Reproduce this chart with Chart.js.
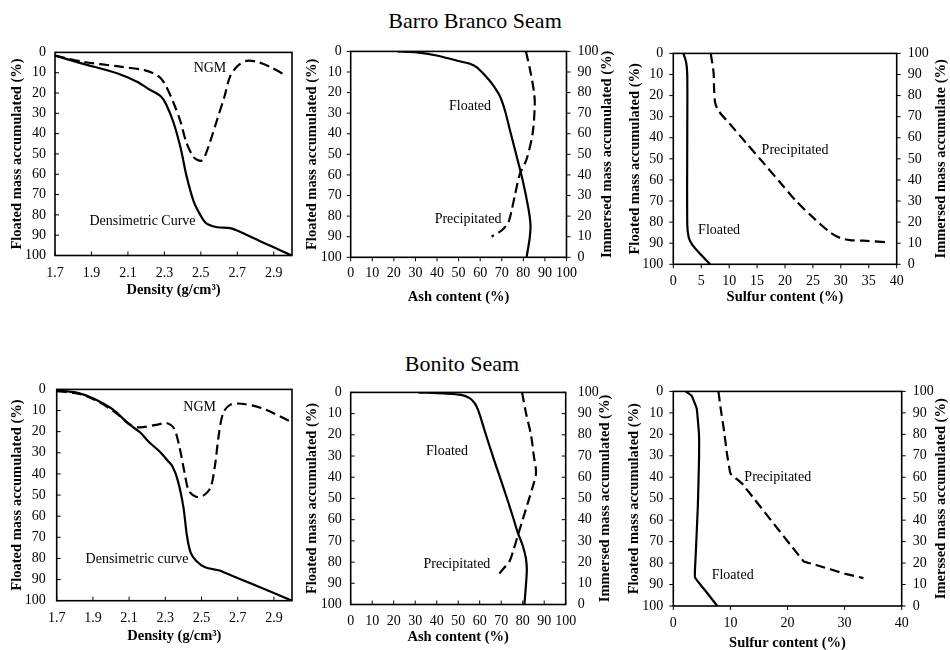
<!DOCTYPE html>
<html>
<head>
<meta charset="utf-8">
<script src="https://cdn.jsdelivr.net/npm/chart.js@4.4.1/dist/chart.umd.min.js"></script>
<style>
body { margin:0; background:#fff; width:950px; height:650px; position:relative; overflow:hidden; font-family:"Liberation Serif","Times New Roman",serif; }
canvas { position:absolute; }
.seam { position:absolute; font-size:22px; transform:translate(-50%,-50%); white-space:nowrap; color:#000; }
</style>
</head>
<body>
<div class="seam" style="left:475px;top:21px">Barro Branco Seam</div>
<div class="seam" style="left:462px;top:364px">Bonito Seam</div>
<script>
// tick labels
const massTicks = [0, 10, 20, 30, 40, 50, 60, 70, 80, 90, 100];
const densityTicks = [1.7, 1.9, 2.1, 2.3, 2.5, 2.7, 2.9];
const ashTicks = [0, 10, 20, 30, 40, 50, 60, 70, 80, 90, 100];
const sulfurTicksBB = [0, 5, 10, 15, 20, 25, 30, 35, 40];
const sulfurTicksBo = [0, 10, 20, 30, 40];

// Barro Branco - densimetric curve / NGM
const bbDensX = [1.70, 1.85, 2.04, 2.15, 2.22, 2.28, 2.31, 2.35, 2.39, 2.42, 2.46, 2.50, 2.53, 2.59, 2.66, 2.72, 2.85, 3.00];
const bbDensY = [1.6, 5.5, 10.3, 14.5, 18.4, 21.6, 25.6, 34.5, 47.4, 60.3, 73.2, 80.5, 84.2, 86.1, 86.5, 88.5, 94, 100];
const bbNgmX = [1.70, 1.86, 2.04, 2.19, 2.24, 2.28, 2.31, 2.35, 2.39, 2.42, 2.46, 2.50, 2.52, 2.55, 2.59, 2.63, 2.66, 2.70, 2.75, 2.81, 2.88, 2.97];
const bbNgmY = [1.6, 4.7, 6.8, 8.7, 10.3, 12.7, 16.8, 24.8, 34.5, 44.2, 51.5, 53.4, 51.5, 44.2, 32.9, 21.6, 11.9, 6.8, 4.2, 4.7, 7.1, 11.6];

// Barro Branco - ash content
const bbAshFloatX = [21.6, 30.6, 39.8, 49, 55.2, 58.3, 61.4, 65.3, 69.1, 71.5, 73.8, 76.9, 79.9, 82.3, 83.3, 83, 81.5];
const bbAshFloatY = [0, 0.5, 2, 4.4, 6, 7.6, 10.7, 15.4, 21.7, 28.8, 38.3, 50.9, 63.5, 76, 84, 90.2, 100];
const bbAshPrecX = [81.2, 83, 84.9, 85.3, 84.3, 81.5, 78.4, 76.1, 74.5, 73, 69.9, 65.3];
const bbAshPrecY = [0, 8.3, 19.4, 25.7, 39.8, 52.4, 59.5, 69.8, 77.6, 83.1, 87, 89.9];

// Barro Branco - sulfur content
const bbSulFloatX = [1.8, 2.3, 2.5, 2.5, 2.5, 2.75, 3.3, 4.5, 6.6];
const bbSulFloatY = [0, 4.2, 10.3, 38, 81, 87.2, 90.3, 94.2, 100];
const bbSulPrecX = [6.7, 7.2, 7.3, 7.5, 8.1, 10.1, 13.1, 16.1, 19.1, 22.1, 25.1, 28.1, 29.9, 31.6, 34, 38.2];
const bbSulPrecY = [0, 8.8, 16.5, 23.4, 27.2, 33.4, 42.6, 51.8, 61.1, 70.3, 78, 84.9, 87.5, 88.5, 88.8, 89.5];

// Bonito - densimetric curve / NGM
const boDensX = [1.70, 1.81, 1.90, 2.01, 2.10, 2.16, 2.21, 2.27, 2.31, 2.34, 2.37, 2.40, 2.42, 2.44, 2.47, 2.52, 2.60, 2.63, 2.76, 3.00];
const boDensY = [0.6, 1.5, 4.2, 9.5, 16.5, 20.3, 24.9, 29.5, 33.4, 36.5, 43.4, 55.7, 69.5, 77.2, 81.1, 84.2, 85.7, 86.8, 91.4, 100];
const boNgmX = [1.70, 1.82, 1.90, 2.01, 2.11, 2.16, 2.25, 2.31, 2.35, 2.38, 2.405, 2.43, 2.47, 2.51, 2.55, 2.575, 2.595, 2.62, 2.66, 2.72, 2.83, 3.00];
const boNgmY = [0.8, 2, 4.5, 10, 16.9, 18, 16.8, 16, 18.8, 28, 38.8, 48, 50.8, 50.3, 46.5, 35.7, 21.8, 11.1, 7.2, 6.8, 8.8, 15.5];

// Bonito - ash content
const boAshFloatX = [31.4, 43.7, 51.4, 55.3, 57.6, 59.2, 60.7, 63, 66.9, 71.5, 75.4, 77.7, 80, 81.5, 81.9, 80.8];
const boAshFloatY = [0, 0.5, 1.2, 2.7, 5, 8.1, 12.7, 20.3, 32.5, 46.3, 58.5, 66.1, 72.2, 78.3, 84.4, 100];
const boAshPrecX = [79.7, 81.5, 83.9, 85.1, 86.2, 84.6, 82.3, 80, 77.7, 75.4, 73.8, 71.2, 68.1];
const boAshPrecY = [0, 9.6, 20.3, 29.5, 37.9, 44.7, 52.4, 60, 67.6, 75.3, 79.8, 82.9, 86.7];

// Bonito - sulfur content
const boSulFloatX = [2.2, 3.2, 4.1, 4.5, 4.5, 4.3, 3.9, 3.8, 5.8, 7.7];
const boSulFloatY = [0, 2, 8, 20.1, 32.2, 53.4, 77.6, 86.7, 93.5, 100];
const boSulPrecX = [7.9, 8.3, 8.9, 9.4, 10, 12, 22.8, 25, 30, 33.3];
const boSulPrecY = [0, 8, 18.6, 29, 38.3, 42.8, 79.1, 80.9, 84.9, 87];

const FONT = '"Liberation Serif", "Times New Roman", serif';
const TITLE_SIZE = 14.5;
const HALF = TITLE_SIZE * 1.2 / 2;
const pts = (xs, ys) => xs.map((x, i) => ({ x: x, y: ys[i] }));

// box border, tick marks, right-axis title and in-plot labels
const frame = {
  id: 'frame',
  afterDraw(chart, args, opts) {
    const { ctx, chartArea: a } = chart;
    ctx.save();
    ctx.fillStyle = '#000';
    ctx.strokeStyle = '#000';
    ctx.font = '14px ' + FONT;
    ctx.textAlign = 'center';
    ctx.textBaseline = 'middle';
    (opts.notes || []).forEach(n => {
      ctx.fillText(n.text, chart.scales.x.getPixelForValue(n.x), chart.scales.y.getPixelForValue(n.y));
    });
    // right axis title reads bottom to top, like the left one
    if (opts.y2Title && chart.scales.y2) {
      ctx.save();
      ctx.font = 'bold ' + TITLE_SIZE + 'px ' + FONT;
      ctx.translate(chart.scales.y2.right - HALF, (a.top + a.bottom) / 2);
      ctx.rotate(-Math.PI / 2);
      ctx.fillText(opts.y2Title, 0, 0);
      ctx.restore();
    }
    ctx.lineWidth = 1;
    const d = opts.inside ? 1 : -1, L = 4;
    Object.values(chart.scales).forEach(s => {
      s.ticks.forEach(t => {
        const p = s.getPixelForValue(t.value);
        ctx.beginPath();
        if (s.axis === 'x') { ctx.moveTo(p, a.bottom); ctx.lineTo(p, a.bottom - d * L); }
        else if (s.position === 'left') { ctx.moveTo(a.left, p); ctx.lineTo(a.left + d * L, p); }
        else { ctx.moveTo(a.right, p); ctx.lineTo(a.right - d * L, p); }
        ctx.stroke();
      });
    });
    ctx.lineWidth = 1.6;
    ctx.strokeRect(a.left, a.top, a.right - a.left, a.bottom - a.top);
    ctx.restore();
  }
};

function line(data, dashed, tension) {
  return {
    data: data, borderColor: '#000', borderWidth: 2.2, pointRadius: 0,
    showLine: true, fill: false, tension: tension,
    borderDash: dashed ? [10, 5] : []
  };
}

function panel(g, c) {
  const cl = Math.round(g.yTitle - HALF);
  const ct = Math.round(g.t - 14);
  const cr = Math.round(g.y2Title ? g.y2Title + HALF : g.r + 12);
  const cb = Math.round(g.xTitle + HALF);
  const cv = document.createElement('canvas');
  cv.width = cr - cl; cv.height = cb - ct;
  cv.style.left = cl + 'px'; cv.style.top = ct + 'px';
  document.body.appendChild(cv);

  const tickFont = { family: FONT, size: 14 };
  const titleFont = { family: FONT, size: TITLE_SIZE, weight: 'bold' };
  const scales = {
    x: {
      type: 'linear', position: 'bottom', min: c.xMin, max: c.xMax,
      afterBuildTicks: s => { s.ticks = c.xTicks.map(v => ({ value: v })); },
      afterFit: s => { s.height = cb - g.b; },
      ticks: { color: '#000', font: tickFont, padding: g.xLab - g.b - 8.4, maxRotation: 0, autoSkip: false,
               callback: c.xFmt || (v => String(v)) },
      title: { display: true, text: c.xTitle, color: '#000', font: titleFont, padding: 0 },
      grid: { display: false, drawTicks: false }, border: { display: false }
    },
    y: {
      type: 'linear', position: 'left', min: 0, max: 100, reverse: true,
      afterBuildTicks: s => { s.ticks = massTicks.map(v => ({ value: v })); },
      afterFit: s => { s.width = g.l - cl; },
      ticks: { color: '#000', font: tickFont, padding: g.gap },
      title: { display: true, text: 'Floated mass accumulated (%)', color: '#000', font: titleFont, padding: 0 },
      grid: { display: false, drawTicks: false }, border: { display: false }
    }
  };
  if (g.y2Title) {
    scales.y2 = {
      type: 'linear', position: 'right', min: 0, max: 100,
      afterBuildTicks: s => { s.ticks = massTicks.map(v => ({ value: v })); },
      afterFit: s => { s.width = cr - g.r; },
      ticks: { color: '#000', font: tickFont, padding: g.gap2 },
      title: { display: false },
      grid: { display: false, drawTicks: false }, border: { display: false }
    };
  }
  new Chart(cv, {
    type: 'scatter',
    data: { datasets: c.datasets },
    options: {
      responsive: false, animation: false, devicePixelRatio: 1,
      layout: { padding: { top: g.t - ct, right: g.y2Title ? 0 : cr - g.r, left: 0, bottom: 0 } },
      scales: scales,
      plugins: { legend: { display: false }, tooltip: { enabled: false },
                 frame: { inside: g.inside, notes: c.notes, y2Title: c.y2Title } }
    },
    plugins: [frame]
  });
}

const dens = v => v.toFixed(1);

panel({ l: 55, t: 49, r: 292, b: 255.5, yTitle: 18, gap: 9, xLab: 273, xTitle: 290, inside: true }, {
  xMin: 1.7, xMax: 3.0, xTicks: densityTicks, xFmt: dens, xTitle: 'Density (g/cm³)',
  datasets: [line(pts(bbDensX, bbDensY), false, 0.3), line(pts(bbNgmX, bbNgmY), true, 0.3)],
  notes: [{ text: 'NGM', x: 2.55, y: 7.7 }, { text: 'Densimetric Curve', x: 2.18, y: 83 }]
});
panel({ l: 350.7, t: 45.7, r: 566.5, b: 257.3, yTitle: 313, gap: 9, y2Title: 607, gap2: 11, xLab: 273, xTitle: 297, inside: false }, {
  xMin: 0, xMax: 100, xTicks: ashTicks, xTitle: 'Ash content (%)', y2Title: 'Immersed mass accumulated (%)',
  datasets: [line(pts(bbAshFloatX, bbAshFloatY), false, 0.3), line(pts(bbAshPrecX, bbAshPrecY), true, 0.3)],
  notes: [{ text: 'Floated', x: 55.3, y: 26.6 }, { text: 'Precipitated', x: 54.4, y: 81.5 }]
});
panel({ l: 673.3, t: 47.7, r: 896.7, b: 264.3, yTitle: 636, gap: 10, y2Title: 941, gap2: 11, xLab: 281, xTitle: 297, inside: false }, {
  xMin: 0, xMax: 40, xTicks: sulfurTicksBB, xTitle: 'Sulfur content (%)', y2Title: 'Immersed mass accumulate (%)',
  datasets: [line(pts(bbSulFloatX, bbSulFloatY), false, 0.3), line(pts(bbSulPrecX, bbSulPrecY), true, 0.3)],
  notes: [{ text: 'Precipitated', x: 21.8, y: 45.8 }, { text: 'Floated', x: 8.2, y: 84.1 }]
});
panel({ l: 56.7, t: 384, r: 292, b: 600.7, yTitle: 18, gap: 11, xLab: 618, xTitle: 636, inside: true }, {
  xMin: 1.7, xMax: 3.0, xTicks: densityTicks, xFmt: dens, xTitle: 'Density (g/cm³)',
  datasets: [line(pts(boDensX, boDensY), false, 0.3), line(pts(boNgmX, boNgmY), true, 0.3)],
  notes: [{ text: 'NGM', x: 2.49, y: 8.3 }, { text: 'Densimetric curve', x: 2.144, y: 80.3 }]
});
panel({ l: 350.7, t: 385.7, r: 565.7, b: 604.5, yTitle: 313, gap: 9, y2Title: 605, gap2: 12, xLab: 621, xTitle: 637, inside: true }, {
  xMin: 0, xMax: 100, xTicks: ashTicks, xTitle: 'Ash content (%)', y2Title: 'Immersed mass accumulated (%)',
  datasets: [line(pts(boAshFloatX, boAshFloatY), false, 0.3), line(pts(boAshPrecX, boAshPrecY), true, 0.3)],
  notes: [{ text: 'Floated', x: 44.8, y: 27.6 }, { text: 'Precipitated', x: 49.4, y: 81 }]
});
panel({ l: 673.3, t: 385.7, r: 901.7, b: 606, yTitle: 635, gap: 10, y2Title: 941, gap2: 11, xLab: 623, xTitle: 643, inside: false }, {
  xMin: 0, xMax: 40, xTicks: sulfurTicksBo, xTitle: 'Sulfur content (%)', y2Title: 'Imerssed mass accumulated (%)',
  datasets: [line(pts(boSulFloatX, boSulFloatY), false, 0.1), line(pts(boSulPrecX, boSulPrecY), true, 0.05)],
  notes: [{ text: 'Precipitated', x: 18.3, y: 40.1 }, { text: 'Floated', x: 10.4, y: 85.9 }]
});
</script>
</body>
</html>
